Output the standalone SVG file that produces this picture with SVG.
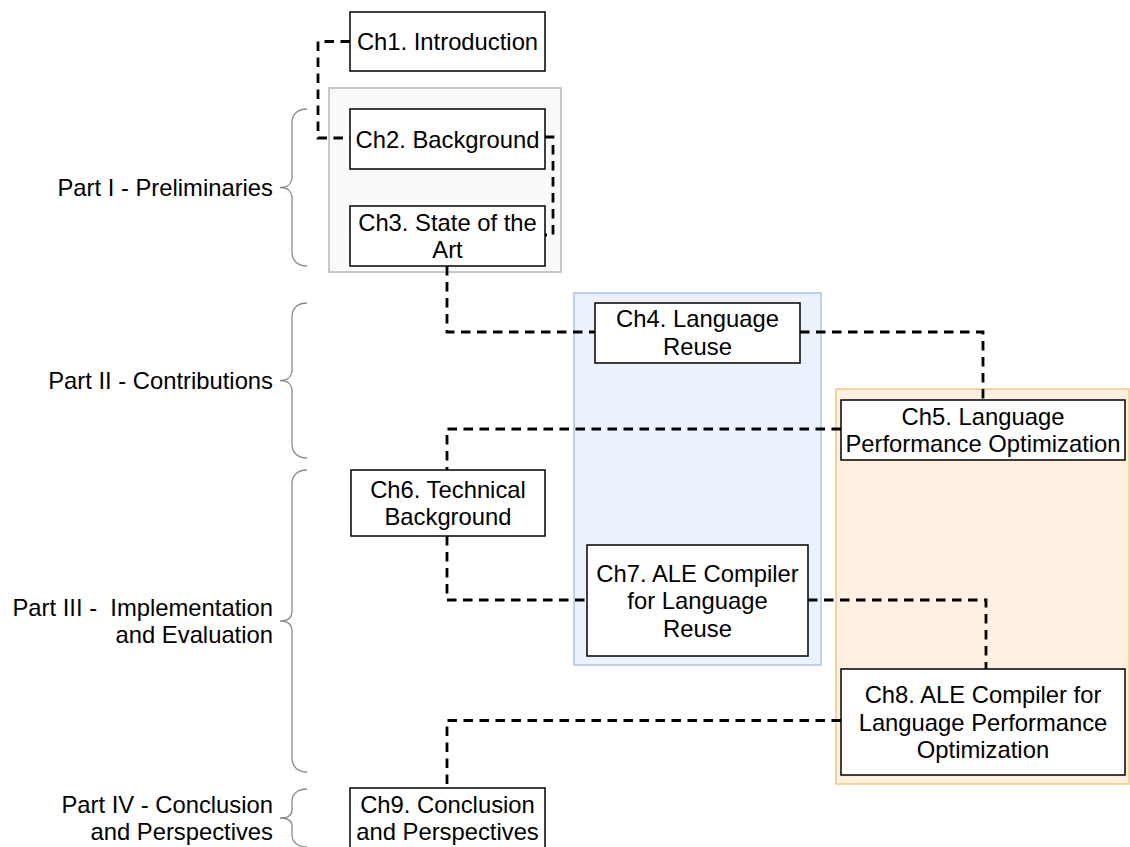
<svg xmlns="http://www.w3.org/2000/svg" width="1130" height="847" viewBox="0 0 1130 847">
  <style>
    text { font-family: "Liberation Sans", Arial, sans-serif; font-size: 23.8px; fill: #000; }
    .c { text-anchor: middle; }
    .r { text-anchor: end; }
    .node { fill: #fff; stroke: #000; stroke-width: 1.5; }
    .conn { fill: none; stroke: #000; stroke-width: 2.8; stroke-dasharray: 9.5 6.5; }
    .brace { fill: none; stroke: #8a8a8a; stroke-width: 1.3; }
  </style>
  <rect width="1130" height="847" fill="#fff"/>

  <g id="groups">
    <rect id="group-part1" x="329" y="88" width="232" height="184" fill="#fafafa" stroke="#b8b8b8" stroke-width="1.5"/>
    <rect id="group-reuse" x="574" y="293" width="247" height="372" fill="#ebf2fc" stroke="#aec4e6" stroke-width="1.5"/>
    <rect id="group-perf" x="836" y="389" width="293" height="395" fill="#fff0e1" stroke="#f0ca80" stroke-width="1.5"/>
  </g>

  <g id="braces">
    <g id="part1">
      <path class="brace" d="M307,109 C299,109 292,113 292,123 L292,177 C292,183 288,187.5 280,187.5 C288,187.5 292,192 292,198 L292,252 C292,262 299,266 307,266"/>
      <text class="r" x="273" y="195.6">Part I - Preliminaries</text>
    </g>
    <g id="part2">
      <path class="brace" d="M307,303 C299,303 292,307 292,317 L292,370 C292,376 288,380.5 280,380.5 C288,380.5 292,385 292,391 L292,444 C292,454 299,458 307,458"/>
      <text class="r" x="273" y="388.6">Part II - Contributions</text>
    </g>
    <g id="part3">
      <path class="brace" d="M307,470 C299,470 292,474 292,484 L292,611 C292,617 288,621 280,621 C288,621 292,625 292,631 L292,758 C292,768 299,772 307,772"/>
      <text class="r" x="273" y="615.8" xml:space="preserve">Part III -  Implementation</text>
      <text class="r" x="273" y="643.2">and Evaluation</text>
    </g>
    <g id="part4">
      <path class="brace" d="M307,789 C299,789 292,793 292,801 L292,810 C292,815 288,818 280,818 C288,818 292,821 292,826 L292,835 C292,843 299,847 307,847"/>
      <text class="r" x="273" y="812.7">Part IV - Conclusion</text>
      <text class="r" x="273" y="840.1">and Perspectives</text>
    </g>
  </g>

  <g id="connectors">
    <path class="conn" d="M350,41.5 L318,41.5 L318,138 L350,138"/>
    <path class="conn" d="M545,137 L553,137 L553,235 L545,235"/>
    <path class="conn" d="M447,266 L447,332 L595,332"/>
    <path class="conn" d="M800,332 L983,332 L983,400"/>
    <path class="conn" d="M841,429 L447,429 L447,470"/>
    <path class="conn" d="M447,536 L447,600 L587,600"/>
    <path class="conn" d="M808,600 L986,600 L986,669"/>
    <path class="conn" d="M841,720.5 L447,720.5 L447,788"/>
  </g>

  <g id="ch1">
    <rect class="node" x="350" y="12" width="195" height="59"/>
    <text class="c" x="447.5" y="50.2">Ch1. Introduction</text>
  </g>
  <g id="ch2">
    <rect class="node" x="350" y="109" width="195" height="60"/>
    <text class="c" x="447.5" y="147.6">Ch2. Background</text>
  </g>
  <g id="ch3">
    <rect class="node" x="350" y="206" width="195" height="60"/>
    <text class="c" x="447.5" y="230.7">Ch3. State of the</text>
    <text class="c" x="447.5" y="258.1">Art</text>
  </g>
  <g id="ch4">
    <rect class="node" x="595" y="303" width="205" height="60"/>
    <text class="c" x="697.5" y="327.4">Ch4. Language</text>
    <text class="c" x="697.5" y="354.8">Reuse</text>
  </g>
  <g id="ch5">
    <rect class="node" x="841" y="400" width="284" height="60"/>
    <text class="c" x="983" y="424.5">Ch5. Language</text>
    <text class="c" x="983" y="451.9">Performance Optimization</text>
  </g>
  <g id="ch6">
    <rect class="node" x="351" y="470" width="194" height="66"/>
    <text class="c" x="448" y="497.5">Ch6. Technical</text>
    <text class="c" x="448" y="524.9">Background</text>
  </g>
  <g id="ch7">
    <rect class="node" x="587" y="545" width="221" height="111"/>
    <text class="c" x="697.5" y="581.7">Ch7. ALE Compiler</text>
    <text class="c" x="697.5" y="609.1">for Language</text>
    <text class="c" x="697.5" y="636.5">Reuse</text>
  </g>
  <g id="ch8">
    <rect class="node" x="841" y="669" width="284" height="106"/>
    <text class="c" x="983" y="703.2">Ch8. ALE Compiler for</text>
    <text class="c" x="983" y="730.6">Language Performance</text>
    <text class="c" x="983" y="758">Optimization</text>
  </g>
  <g id="ch9">
    <rect class="node" x="350" y="788" width="195" height="62"/>
    <text class="c" x="447.5" y="812.7">Ch9. Conclusion</text>
    <text class="c" x="447.5" y="840.1">and Perspectives</text>
  </g>
</svg>
